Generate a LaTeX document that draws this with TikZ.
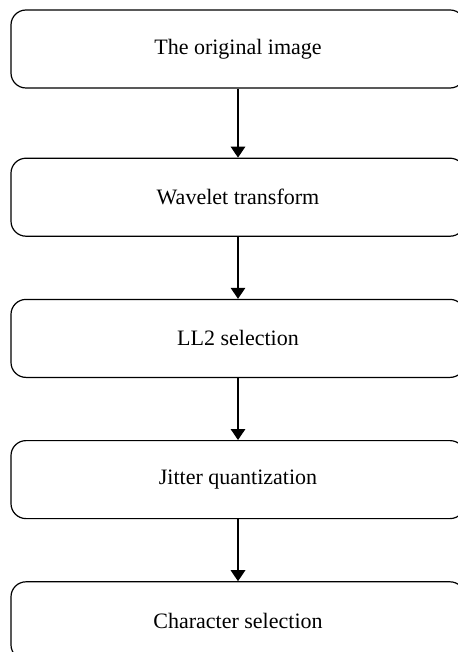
\documentclass[tikz,border=0pt]{standalone}
\usepackage{fontspec}
\setmainfont{Liberation Serif}
\usetikzlibrary{arrows.meta,positioning}

\begin{document}
\begin{tikzpicture}[node distance= 31pt]
      \clip (0,0) rectangle (229pt,-326pt);
      \begin{scope}[every node/.style={draw,rounded corners=7.5pt,line width=0.6pt,
          minimum width=227pt,minimum height=39pt,inner sep=0pt,
          font=\fontsize{11}{13}\selectfont}]
        \node (orig) at (119pt,-24.5pt) {The original image};
        \node (wave) [below= 34.5pt of orig] {Wavelet transform};
        \node (ll) [below= of wave] {LL2 selection};
        \node (jitter) [below= of ll] {Jitter quantization};
        \node (char) [below= of jitter] {Character selection};
      \end{scope}
      \begin{scope}
        [every edge/.style={draw= black, line width=0.6pt,
          -{Triangle[width=7.3pt,length=5.5pt]}}]
        \path (orig) edge (wave);
        \path (wave) edge (ll);
        \path (ll) edge (jitter);
        \path (jitter) edge (char);
      \end{scope}
    \end{tikzpicture}
\end{document}
